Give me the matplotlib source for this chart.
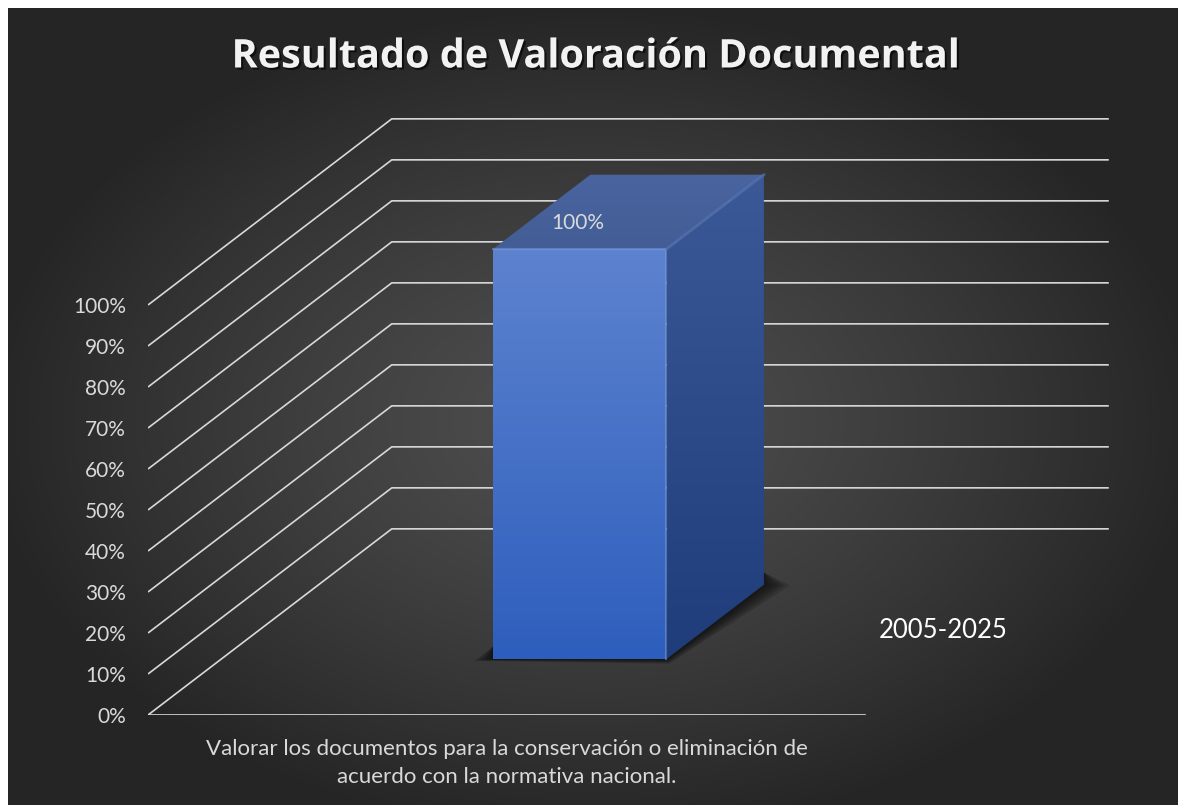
import numpy as np
import matplotlib
matplotlib.use("Agg")
import matplotlib.pyplot as plt
from matplotlib.patches import Polygon
from matplotlib import patheffects as pe

# datos del grafico
categorias = ["Valorar los documentos para la conservación o eliminación de\nacuerdo con la normativa nacional."]
valores = [1.0]
serie = "2005-2025"
marcas = [0, 0.1, 0.2, 0.3, 0.4, 0.5, 0.6, 0.7, 0.8, 0.9, 1.0]
etiquetas = ["0%", "10%", "20%", "30%", "40%", "50%", "60%", "70%", "80%", "90%", "100%"]
titulo = "Resultado de Valoración Documental"

# perspectiva (desplazamiento de la profundidad en unidades de datos)
prof_dx = 0.340
prof_dy = 0.454
ancho_barra = 0.242
prof0, prof1 = 0.30, 0.70

gris = "#d9d9d9"
fuente = "Lato"

W, H = 1178, 805
fig = plt.figure(figsize=(W / 100, H / 100), dpi=100)
fig.patch.set_facecolor("white")

#1-fondo con degradado radial
bg = fig.add_axes([8 / W, 0, (W - 8) / W, (H - 8) / H])
yy, xx = np.mgrid[0:1:300j, 0:1:400j]
r = np.sqrt(((xx - 0.5) / 0.75) ** 2 + ((yy - 0.52) / 0.75) ** 2)
r = np.clip(r / 0.7, 0, 1)
claro = np.array([0x4e, 0x4e, 0x4e]) / 255
oscuro = np.array([0x25, 0x25, 0x25]) / 255
img = claro + (oscuro - claro) * (r[..., None] ** 1.3)
bg.imshow(img, extent=[0, 1, 0, 1], aspect="auto", origin="upper")
bg.set_axis_off()

#2-ejes principales
ax = fig.add_axes([148 / W, 90 / H, (W - 148) / W, (H - 90) / H])
ax.set_xlim(0, (W - 148) / 717)
ax.set_ylim(0, (H - 90) / 410)
ax.patch.set_alpha(0)
for s in ax.spines.values():
    s.set_visible(False)

ax.set_yticks(marcas)
ax.set_yticklabels(etiquetas, color=gris, fontsize=15, family=fuente)
posiciones = [0.5 + i for i in range(len(categorias))]
ax.set_xticks(posiciones)
ax.set_xticklabels(categorias, color=gris, fontsize=16, family=fuente, linespacing=1.5)
ax.tick_params(axis="y", length=0, pad=16)
ax.tick_params(axis="x", length=0, pad=17)

# lineas de division (pared lateral y trasera)
for m in marcas:
    ax.plot([0, prof_dx, prof_dx + len(categorias)], [m, m + prof_dy, m + prof_dy],
            color=gris, lw=1.2, solid_capstyle="butt")
ax.plot([0, len(categorias)], [0, 0], color=gris, lw=1.2)


def cara_degradado(verts, c_arriba, c_abajo):
    poly = Polygon(verts, closed=True, facecolor="none", edgecolor="none")
    ax.add_patch(poly)
    xs = [v[0] for v in verts]
    ys = [v[1] for v in verts]
    c1 = np.array(matplotlib.colors.to_rgb(c_arriba))
    c2 = np.array(matplotlib.colors.to_rgb(c_abajo))
    t = np.linspace(0, 1, 100)[:, None]
    grad = (c1 + (c2 - c1) * t)[:, None, :]
    im = ax.imshow(grad, extent=[min(xs), max(xs), min(ys), max(ys)],
                   aspect="auto", origin="upper", zorder=3)
    im.set_clip_path(poly)


#3-barras 3D
for c, v in zip(posiciones, valores):
    ddx = (prof1 - prof0) * prof_dx
    ddy = (prof1 - prof0) * prof_dy
    x0 = c - ancho_barra / 2 + prof0 * prof_dx
    x1 = c + ancho_barra / 2 + prof0 * prof_dx
    yb = prof0 * prof_dy
    yt = v + prof0 * prof_dy

    # sombra difusa
    for k in [1.0, 0.8, 0.6, 0.4, 0.2]:
        sombra = Polygon([(x0 - 0.026 * k, yb - 0.004 * k), (x1 + 0.004 * k, yb - 0.011 * k),
                          (x1 + ddx + 0.036 * k, yb + ddy - 0.002 * k), (x1 + ddx, yb + ddy + 0.03),
                          (x0, yb + 0.03)],
                         closed=True, facecolor="black", edgecolor="none", alpha=0.16, zorder=2)
        ax.add_patch(sombra)

    cara_degradado([(x0, yb), (x1, yb), (x1, yt), (x0, yt)], "#5d83cf", "#2e5ebd")
    cara_degradado([(x1, yb), (x1 + ddx, yb + ddy), (x1 + ddx, yt + ddy), (x1, yt)], "#3a5996", "#1f3d7b")
    cara_degradado([(x0, yt), (x1, yt), (x1 + ddx, yt + ddy), (x0 + ddx, yt + ddy)], "#4a64a0", "#435d96")

    # brillo de los bordes
    ax.plot([x0, x1, x1], [yt, yt, yb], color="#7c9fe4", lw=1.5, alpha=0.5, zorder=4)
    ax.plot([x1, x1 + ddx], [yt, yt + ddy], color="#5a78b8", lw=2, alpha=0.6, zorder=4)

    ax.annotate(f"{v:.0%}", xy=(c + prof0 * prof_dx, yt), xytext=(-1, 19),
                textcoords="offset points", ha="center", va="center",
                color=gris, fontsize=15, family=fuente, zorder=5)

#4-leyenda y titulo
fig.text(943 / W, 1 - 630 / H, serie, ha="center", va="center",
         color="white", fontsize=18.5, family=fuente)

fig.text(596 / W, 1 - 57 / H, titulo, ha="center", va="center",
         color="#f2f2f2", fontsize=28.5, weight="bold", family="Open Sans",
         path_effects=[pe.SimplePatchShadow(offset=(1.5, -1.5), shadow_rgbFace="black", alpha=0.6),
                       pe.Normal()])

fig.savefig("out.png", dpi=100, facecolor=fig.get_facecolor())
